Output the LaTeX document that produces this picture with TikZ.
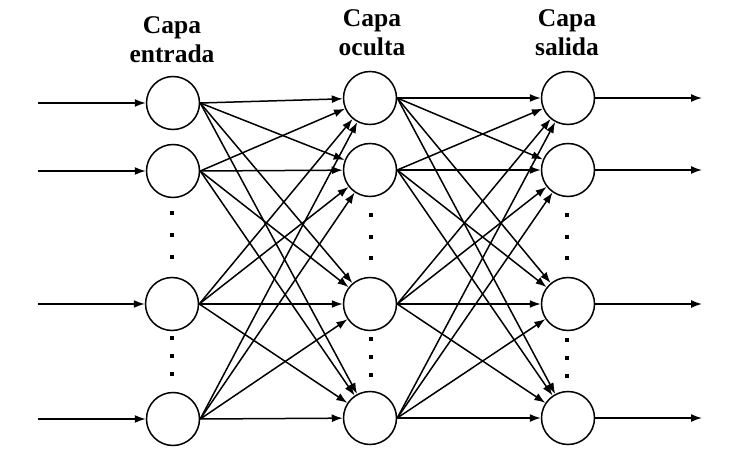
\documentclass[tikz,border=0pt]{standalone}
\usepackage{fontspec}
\setmainfont{Liberation Serif}
\usetikzlibrary{arrows.meta}

\tikzset{
    neuron/.style={draw, circle, line width=1.5pt, minimum size=53pt, inner sep=0pt},
    dotmark/.style={fill, rectangle, minimum size=3.5pt, inner sep=0pt},
    layername/.style={font=\bfseries\fontsize{25.5}{29}\selectfont, align=center, anchor=north, inner sep=0pt},
    >={Latex[length=11pt,width=8pt]}
}

\begin{document}
\begin{tikzpicture}[x=1pt, y=-1pt, line width=1.5pt]
            \useasboundingbox (0,0) rectangle (736,462);

            \node[layername] (Lin) at (172,16) {Capa\\entrada};
            \node[layername] (Lhid) at (372,9) {Capa\\oculta};
            \node[layername] (Lout) at (567,9) {Capa\\salida};

            \node[neuron] (I1) at (173,103) {};
            \node[neuron] (I2) at (173,171) {};
            \node[neuron] (I3) at (172,304) {};
            \node[neuron] (I4) at (173,419) {};
            \node[neuron] (H1) at (370,98) {};
            \node[neuron] (H2) at (370,170) {};
            \node[neuron] (H3) at (370,304) {};
            \node[neuron] (H4) at (370,418) {};
            \node[neuron] (O1) at (568,98) {};
            \node[neuron] (O2) at (568,170) {};
            \node[neuron] (O3) at (568,304) {};
            \node[neuron] (O4) at (568,418) {};

            % puntos suspensivos
            \node[dotmark] (di1) at (172,213) {}; \node[dotmark] (di2) at (172,235) {}; \node[dotmark] (di3) at (172,257) {};
            \node[dotmark] (di4) at (172,338) {}; \node[dotmark] (di5) at (172,356) {}; \node[dotmark] (di6) at (172,374) {};
            \node[dotmark] (dh1) at (371,215) {}; \node[dotmark] (dh2) at (371,237) {}; \node[dotmark] (dh3) at (371,258) {};
            \node[dotmark] (dh4) at (371,339) {}; \node[dotmark] (dh5) at (371,357) {}; \node[dotmark] (dh6) at (371,375) {};
            \node[dotmark] (do1) at (567,215) {}; \node[dotmark] (do2) at (567,237) {}; \node[dotmark] (do3) at (567,258) {};
            \node[dotmark] (do4) at (567,340) {}; \node[dotmark] (do5) at (567,358) {}; \node[dotmark] (do6) at (567,376) {};

            \coordinate (x1) at (38,103);
            \coordinate (x2) at (38,171);
            \coordinate (x3) at (38,304);
            \coordinate (x4) at (38,419);
            \coordinate (y1) at (702,98);
            \coordinate (y2) at (702,170);
            \coordinate (y3) at (702,304);
            \coordinate (y4) at (702,418);

            \draw[->] (x1) to (I1); \draw[->] (x2) to (I2); \draw[->] (x3) to (I3); \draw[->] (x4) to (I4);

            \draw[->] (I1.east) to (H1); \draw[->] (I1.east) to (H2); \draw[->] (I1.east) to (H3); \draw[->] (I1.east) to (H4);
            \draw[->] (I2.east) to (H1); \draw[->] (I2.east) to (H2); \draw[->] (I2.east) to (H3); \draw[->] (I2.east) to (H4);
            \draw[->] (I3.east) to (H1); \draw[->] (I3.east) to (H2); \draw[->] (I3.east) to (H3); \draw[->] (I3.east) to (H4);
            \draw[->] (I4.east) to (H1); \draw[->] (I4.east) to (H2); \draw[->] (I4.east) to (H3); \draw[->] (I4.east) to (H4);

            \draw[->] (H1.east) to (O1); \draw[->] (H1.east) to (O2); \draw[->] (H1.east) to (O3); \draw[->] (H1.east) to (O4);
            \draw[->] (H2.east) to (O1); \draw[->] (H2.east) to (O2); \draw[->] (H2.east) to (O3); \draw[->] (H2.east) to (O4);
            \draw[->] (H3.east) to (O1); \draw[->] (H3.east) to (O2); \draw[->] (H3.east) to (O3); \draw[->] (H3.east) to (O4);
            \draw[->] (H4.east) to (O1); \draw[->] (H4.east) to (O2); \draw[->] (H4.east) to (O3); \draw[->] (H4.east) to (O4);

            \draw[->] (O1) to (y1); \draw[->] (O2) to (y2); \draw[->] (O3) to (y3); \draw[->] (O4) to (y4);
        \end{tikzpicture}
\end{document}
